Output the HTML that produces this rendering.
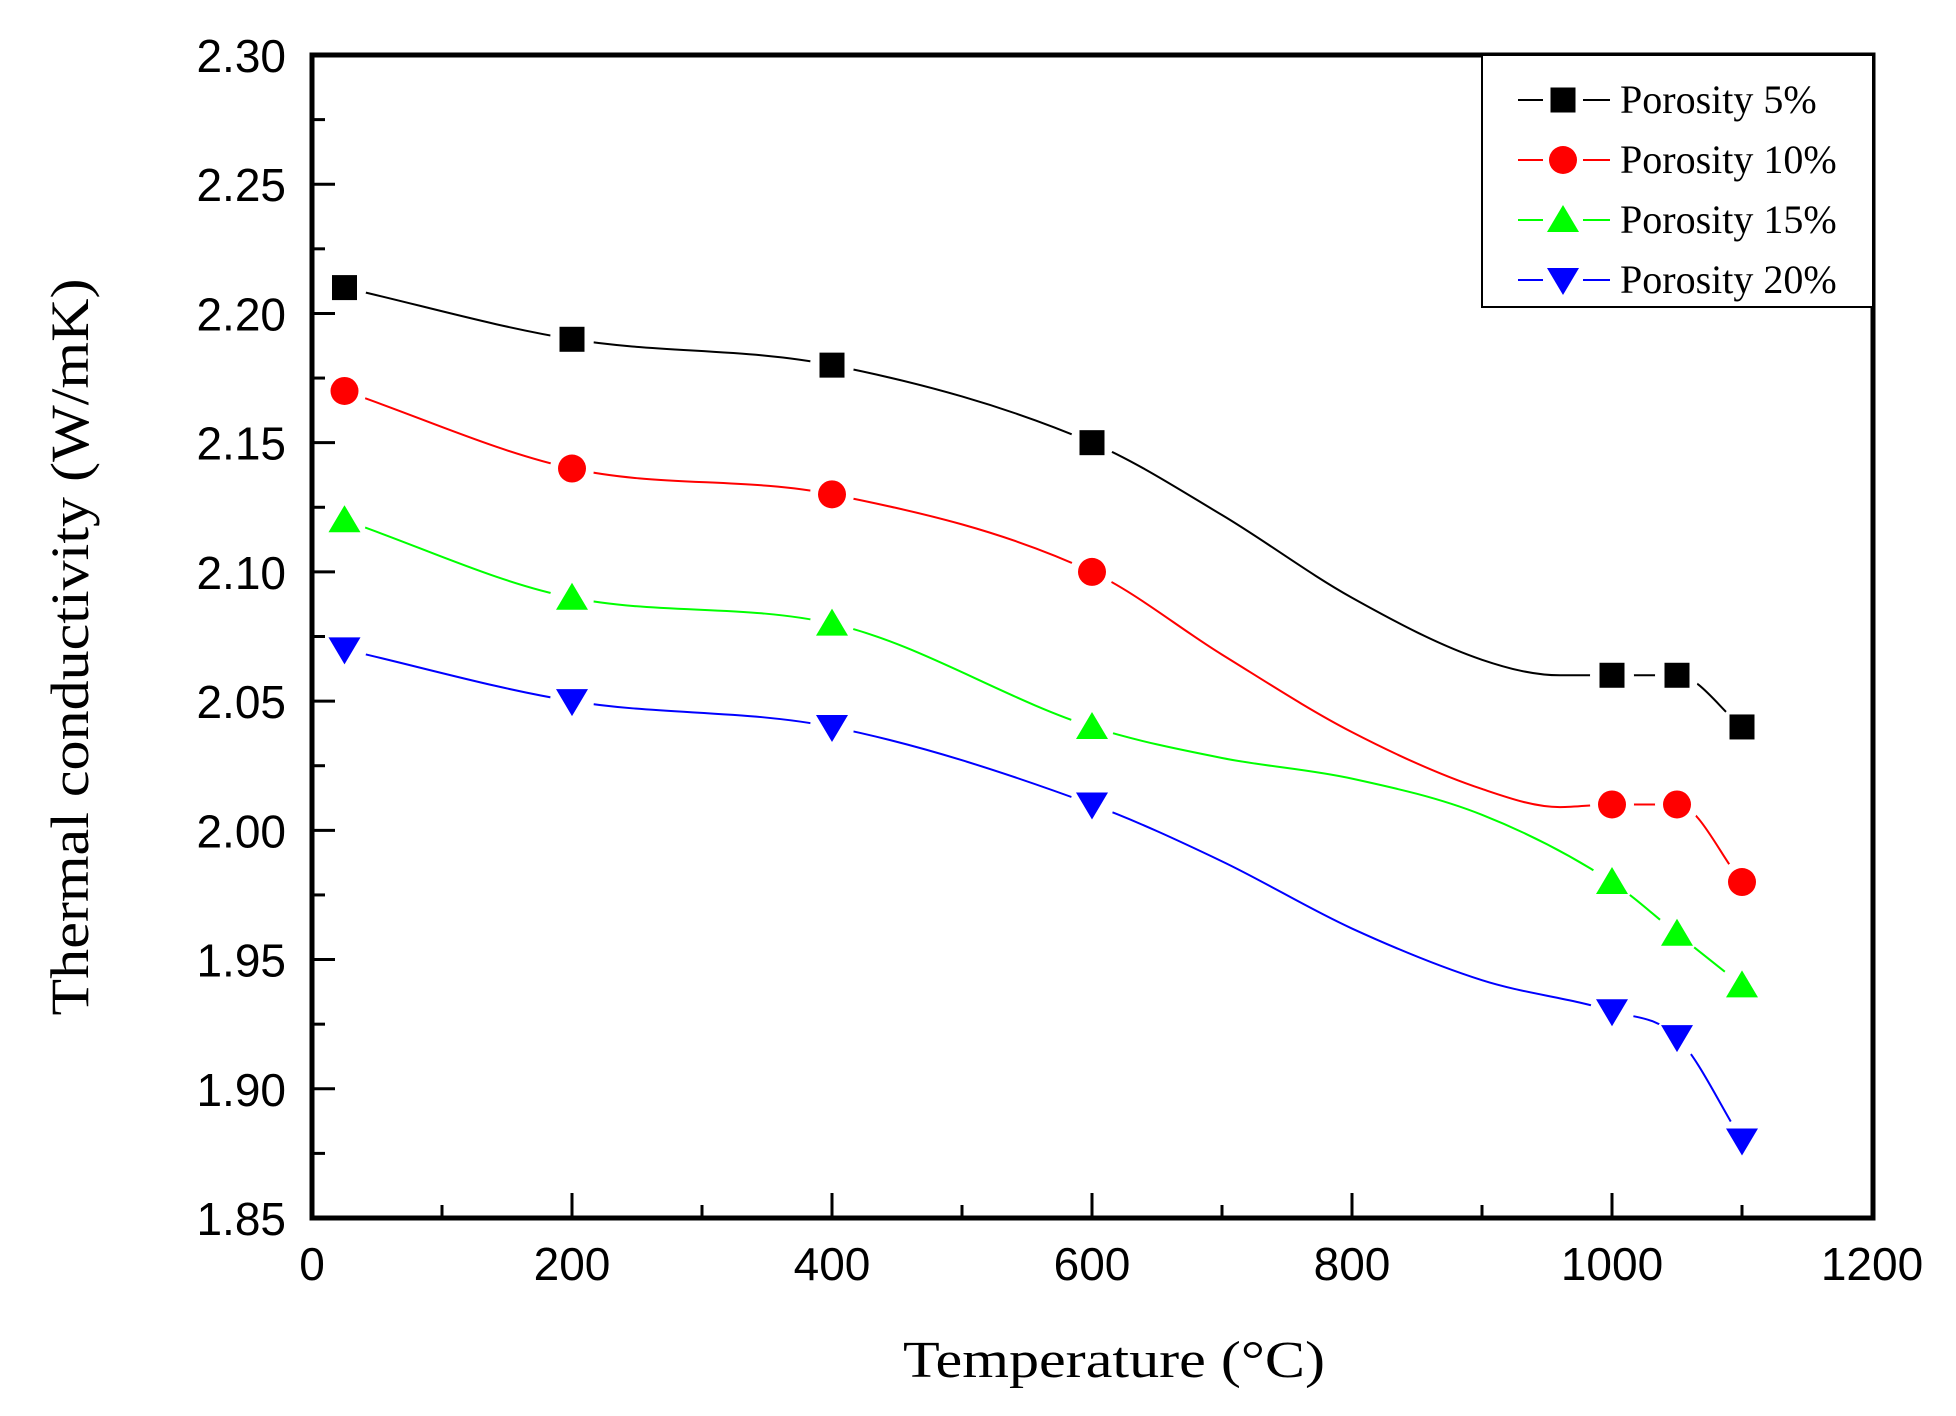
<!DOCTYPE html>
<html><head><meta charset="utf-8"><style>
html,body{margin:0;padding:0;background:#fff;}
svg{display:block;}
.tl{font-family:"Liberation Sans",sans-serif;font-size:46px;fill:#000;}
.sf{font-family:"Liberation Serif",serif;fill:#000;}
</style></head><body>
<svg id="s" width="1956" height="1416" viewBox="0 0 1956 1416" xmlns="http://www.w3.org/2000/svg">
<g id="ticks" stroke="#000" stroke-width="3"></g>
<g id="lines" fill="none" stroke-width="2"></g>
<g id="marks"></g>
<rect x="312" y="55" width="1561" height="1163" fill="none" stroke="#000" stroke-width="5"/>
<g id="labels"></g>
<text class="sf" x="1114" y="1377" font-size="52" text-anchor="middle" textLength="422" lengthAdjust="spacingAndGlyphs">Temperature (°C)</text>
<text class="sf" transform="translate(88,647) rotate(-90)" font-size="54" text-anchor="middle" textLength="737" lengthAdjust="spacingAndGlyphs">Thermal conductivity (W/mK)</text>
<rect x="1482" y="55" width="391" height="252" fill="#fff" stroke="#000" stroke-width="2"/>
<g id="legend"></g>
</svg>
<script>
const NS="http://www.w3.org/2000/svg";
function el(p,t,a,txt){const e=document.createElementNS(NS,t);for(const k in a)e.setAttribute(k,a[k]);if(txt!=null)e.textContent=txt;document.getElementById(p).appendChild(e);return e;}
const X=t=>312+1.3*t, Y=v=>55+(2.30-v)/0.45*1163;
for(let i=0;i<=18;i++){const v=1.85+i*0.025;const y=Y(v);const maj=i%2==0;
 el("ticks","line",{x1:312,y1:y,x2:312+(maj?23:13),y2:y});
 if(maj) el("labels","text",{class:"tl",x:286,y:y+17,"text-anchor":"end"},v.toFixed(2));}
for(let i=0;i<=12;i++){const t=i*100;const x=X(t);const maj=i%2==0;
 el("ticks","line",{x1:x,y1:1218,x2:x,y2:1218-(maj?25:13)});
 if(maj) el("labels","text",{class:"tl",x:x,y:1280,"text-anchor":"middle"},String(t));}
const xs=[25,200,400,600,1000,1050,1100];
const S=[
 {c:"#000",m:"sq",d:[2.21,2.19,2.18,2.15,2.06,2.06,2.04],n:"Porosity 5%",ex:[[700,2.122],[800,2.09],[900,2.066],[960,2.06]]},
 {c:"#f00",m:"ci",d:[2.17,2.14,2.13,2.10,2.01,2.01,1.98],n:"Porosity 10%",ex:[[700,2.068],[800,2.038],[900,2.016],[960,2.009]]},
 {c:"#0f0",m:"tu",d:[2.12,2.09,2.08,2.04,1.98,1.96,1.94],n:"Porosity 15%",ex:[[700,2.028],[800,2.02],[900,2.006]]},
 {c:"#00f",m:"td",d:[2.07,2.05,2.04,2.01,1.93,1.92,1.88],n:"Porosity 20%",ex:[[700,1.988],[800,1.962],[900,1.942]]}];
function marker(g,m,x,y,c){
 if(m=="sq") el(g,"rect",{x:x-12.5,y:y-12.5,width:25,height:25,fill:c});
 else if(m=="ci") el(g,"circle",{cx:x,cy:y,r:14,fill:c});
 else if(m=="tu") el(g,"polygon",{points:`${x-16},${y+12} ${x+16},${y+12} ${x},${y-15}`,fill:c});
 else el(g,"polygon",{points:`${x-16},${y-12} ${x+16},${y-12} ${x},${y+15}`,fill:c});}
function monotone(P){
 const n=P.length,dl=[],m=[];
 for(let i=0;i<n-1;i++)dl.push((P[i+1][1]-P[i][1])/(P[i+1][0]-P[i][0]));
 m[0]=dl[0];m[n-1]=dl[n-2];
 for(let i=1;i<n-1;i++){ if(dl[i-1]*dl[i]<=0) m[i]=0; else { m[i]=(dl[i-1]+dl[i])/2; } }
 for(let i=0;i<n-1;i++){ if(dl[i]==0){m[i]=0;m[i+1]=0;continue;} const a=m[i]/dl[i],b=m[i+1]/dl[i],s=a*a+b*b; if(s>9){const t=3/Math.sqrt(s);m[i]=t*a*dl[i];m[i+1]=t*b*dl[i];}}
 let d=`M${P[0][0]},${P[0][1]}`;
 for(let i=0;i<n-1;i++){const h=(P[i+1][0]-P[i][0])/3;
  d+=` C${P[i][0]+h},${P[i][1]+m[i]*h} ${P[i+1][0]-h},${P[i+1][1]-m[i+1]*h} ${P[i+1][0]},${P[i+1][1]}`;}
 return d;}
S.forEach((s,si)=>{
 const pts=xs.map((t,i)=>[t,s.d[i]]).concat(s.ex).sort((a,b)=>a[0]-b[0]);
 const LP=pts.map(p=>[X(p[0]),Y(p[1])]);
 el("lines","path",{d:monotone(LP),stroke:s.c});
 const P=xs.map((t,i)=>[X(t),Y(s.d[i])]);
 P.forEach(p=>el("marks","circle",{cx:p[0],cy:p[1],r:22,fill:"#fff"}));
 P.forEach(p=>marker("marks",s.m,p[0],p[1],s.c));
 const ly=100+si*60;
 el("legend","line",{x1:1518,y1:ly,x2:1610,y2:ly,stroke:s.c,"stroke-width":2});
 el("legend","rect",{x:1543,y:ly-15,width:40,height:30,fill:"#fff"});
 marker("legend",s.m,1563,ly,s.c);
 el("legend","text",{class:"sf",x:1620,y:ly+13,"font-size":40},s.n);
});
</script>
</body></html>
